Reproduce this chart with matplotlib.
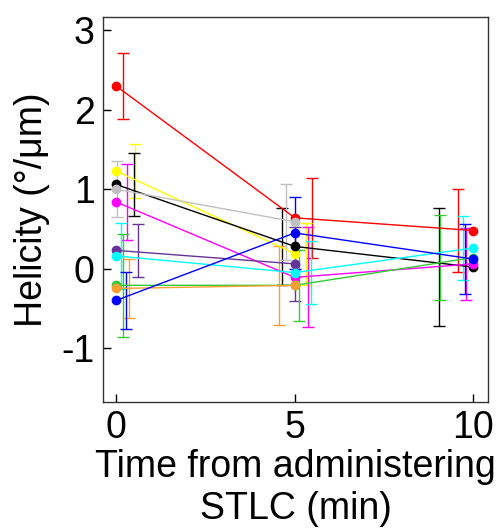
import matplotlib
matplotlib.use("Agg")
import matplotlib.pyplot as plt

plt.rcParams['font.family'] = ['Liberation Sans', 'DejaVu Sans']
plt.rcParams['axes.unicode_minus'] = False

# mean helicity per cell over time (deg/um), with error bar half-widths
colors = ["red", "yellow", "black", "#c0c0c0", "magenta",
          "#663399", "cyan", "#33cc33", "#f5a030", "blue"]
times = [
    [0, 5, 10], [0, 5], [0, 5, 10], [0, 5], [0, 5, 10],
    [0, 5], [0, 5, 10], [0, 5, 10], [0, 5], [0, 5, 10],
]
means = [
    [2.30, 0.64, 0.48],
    [1.23, 0.19],
    [1.06, 0.28, 0.02],
    [1.00, 0.59],
    [0.84, -0.11, 0.06],
    [0.23, 0.06],
    [0.16, -0.05, 0.26],
    [-0.21, -0.21, 0.14],
    [-0.25, -0.21],
    [-0.40, 0.45, 0.12],
]
errors = [
    [0.42, 0.50, 0.52],
    [0.34, 0.39],
    [0.40, 0.48, 0.74],
    [0.35, 0.48],
    [0.48, 0.63, 0.455],
    [0.33, 0.47],
    [0.42, 0.40, 0.40],
    [0.65, 0.45, 0.53],
    [0.37, 0.50],
    [0.36, 0.45, 0.445],
]
# error bars are spread sideways so they don't sit on top of each other
bar_times = [
    [0.20, 5.49, 9.57],
    [0.54, 5.32],
    [0.49, 4.65, 9.04],
    [0.03, 4.75],
    [0.31, 5.38, 9.78],
    [0.62, 5.00],
    [0.13, 5.45, 9.70],
    [0.19, 5.12, 9.06],
    [0.37, 4.55],
    [0.27, 5.00, 9.76],
]

fig = plt.figure(figsize=(4.97, 5.29), dpi=100)
ax = fig.add_axes([0.207, 0.240, 0.775, 0.728])

for c, bt, m, e in zip(colors, bar_times, means, errors):
    ax.errorbar(bt, m, yerr=e, fmt="none", ecolor=c, elinewidth=1.0,
                capsize=4, capthick=1.0, zorder=2)

for c, t, m in zip(colors, times, means):
    ax.plot(t, m, color=c, lw=1.0, marker="o", markersize=6, zorder=3)

ax.set_xlim(-0.37, 10.41)
ax.set_ylim(-1.68, 3.17)
ax.set_xticks([0, 5, 10])
ax.set_yticks([-1, 0, 1, 2, 3])
ax.tick_params(direction="in", length=6, width=1.0, labelsize=27, pad=6,
               top=False, right=False)
for s in ax.spines.values():
    s.set_linewidth(1.0)
    s.set_color("#333333")

ax.set_ylabel("Helicity (°/μm)", fontsize=27, labelpad=8)
ax.set_xlabel("Time from administering\nSTLC (min)", fontsize=27,
              labelpad=2, linespacing=1.2)

fig.savefig("out.png", dpi=100)
